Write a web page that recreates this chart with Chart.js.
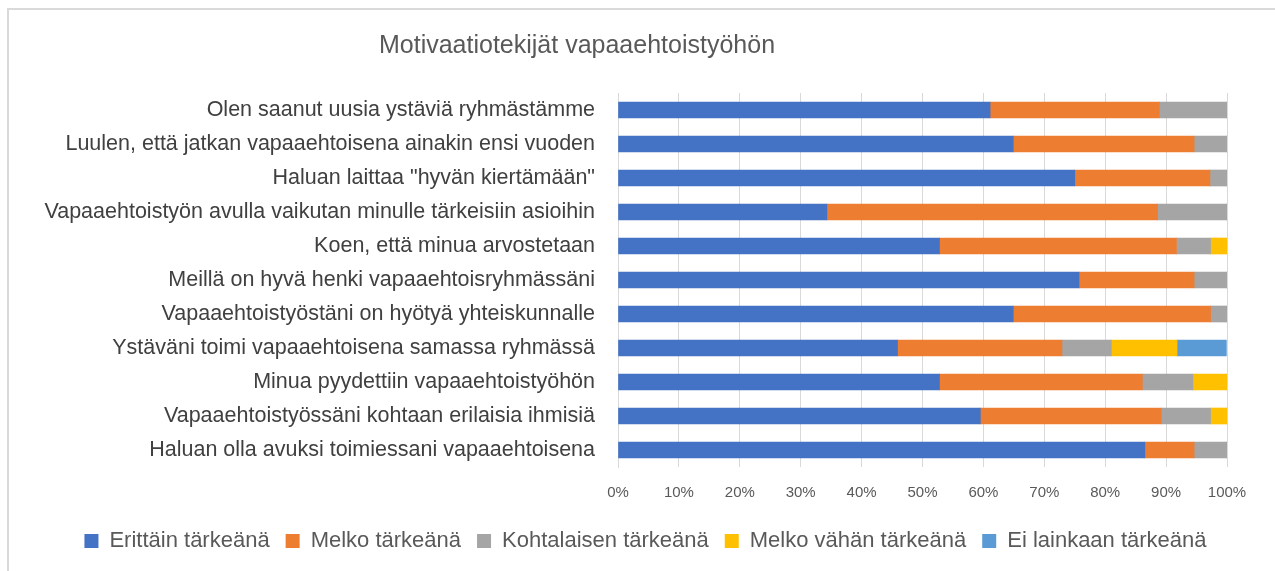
<!DOCTYPE html>
<html>
<head>
<meta charset="utf-8">
<script src="https://cdn.jsdelivr.net/npm/chart.js@4/dist/chart.umd.min.js"></script>
<style>
  html, body { margin: 0; padding: 0; background: #fff; width: 1275px; height: 571px; overflow: hidden; }
  #frame { position: absolute; left: 7px; top: 8px; width: 1268px; height: 563px;
           border-left: 2px solid #d9d9d9; border-top: 2px solid #d9d9d9; box-sizing: border-box; }
  #title { position: absolute; left: 0; top: 20px; width: 1136px; text-align: center;
           font-family: "Liberation Sans", Arial, sans-serif; font-size: 25px; color: #595959; }
  #wrap { position: absolute; left: 0; top: 0; width: 1266px; height: 561px; }
</style>
</head>
<body>
<div id="frame">
  <div id="wrap"><canvas id="c"></canvas></div>
  <div id="title">Motivaatiotekijät vapaaehtoistyöhön</div>
</div>
<script>
const categories = [
  "Olen saanut uusia ystäviä ryhmästämme",
  "Luulen, että jatkan vapaaehtoisena ainakin ensi vuoden",
  "Haluan laittaa \"hyvän kiertämään\"",
  "Vapaaehtoistyön avulla vaikutan minulle tärkeisiin asioihin",
  "Koen, että minua arvostetaan",
  "Meillä on hyvä henki vapaaehtoisryhmässäni",
  "Vapaaehtoistyöstäni on hyötyä yhteiskunnalle",
  "Ystäväni toimi vapaaehtoisena samassa ryhmässä",
  "Minua pyydettiin vapaaehtoistyöhön",
  "Vapaaehtoistyössäni kohtaan erilaisia ihmisiä",
  "Haluan olla avuksi toimiessani vapaaehtoisena"
];
const seriesNames = ["Erittäin tärkeänä", "Melko tärkeänä", "Kohtalaisen tärkeänä", "Melko vähän tärkeänä", "Ei lainkaan tärkeänä"];
const erittain     = [61.1, 64.9, 75.0, 34.3, 52.8, 75.7, 64.9, 45.9, 52.8, 59.5, 86.5];
const melko        = [27.8, 29.7, 22.2, 54.3, 38.9, 18.9, 32.4, 27.0, 33.3, 29.7,  8.1];
const kohtalaisen  = [11.1,  5.4,  2.8, 11.4,  5.6,  5.4,  2.7,  8.1,  8.3,  8.1,  5.4];
const melkoVahan   = [ 0,    0,    0,    0,    2.8,  0,    0,   10.8,  5.6,  2.7,  0  ];
const eiLainkaan   = [ 0,    0,    0,    0,    0,    0,    0,    8.1,  0,    0,    0  ];
const xTicks = [0, 10, 20, 30, 40, 50, 60, 70, 80, 90, 100];
const colors = ["#4472C4", "#ED7D31", "#A5A5A5", "#FFC000", "#5B9BD5"];

const allSeries = [erittain, melko, kohtalaisen, melkoVahan, eiLainkaan];
const datasets = allSeries.map((d, i) => ({
  label: seriesNames[i],
  data: d,
  backgroundColor: colors[i],
  borderWidth: 0,
  barThickness: 16
}));

// nudge the legend to match the reference placement
const legendNudge = {
  id: 'legendNudge',
  afterLayout(chart) {
    const lg = chart.legend;
    if (!lg) return;
    const dx = 636.5 - (lg.left + lg.right) / 2;
    const dy = -5;
    lg.left += dx; lg.right += dx;
    lg.top += dy; lg.bottom += dy;
  }
};

const FONT = "'Liberation Sans', Arial, sans-serif";
new Chart(document.getElementById('c'), {
  type: 'bar',
  data: { labels: categories, datasets },
  plugins: [legendNudge],
  options: {
    indexAxis: 'y',
    responsive: true,
    maintainAspectRatio: false,
    animation: false,
    layout: { padding: { top: 83, right: 48, left: 0, bottom: 4 } },
    scales: {
      x: {
        stacked: true, min: 0, max: 100,
        afterBuildTicks: (axis) => { axis.ticks = xTicks.map(v => ({ value: v })); },
        grid: { color: '#d9d9d9', lineWidth: 1, drawTicks: false },
        border: { display: false },
        ticks: { callback: v => v + '%', color: '#595959', font: { family: FONT, size: 15 }, padding: 17 }
      },
      y: {
        stacked: true,
        afterFit: (axis) => { axis.width = 609; },
        grid: { display: false, drawTicks: false },
        border: { display: true, color: '#d9d9d9' },
        ticks: { color: '#404040', font: { family: FONT, size: 21.5 }, padding: 23 }
      }
    },
    plugins: {
      title: { display: false },
      tooltip: { enabled: false },
      legend: {
        position: 'bottom',
        labels: { boxWidth: 14, boxHeight: 14, color: '#595959', font: { family: FONT, size: 22 }, padding: 16 }
      }
    }
  }
});
</script>
</body>
</html>
